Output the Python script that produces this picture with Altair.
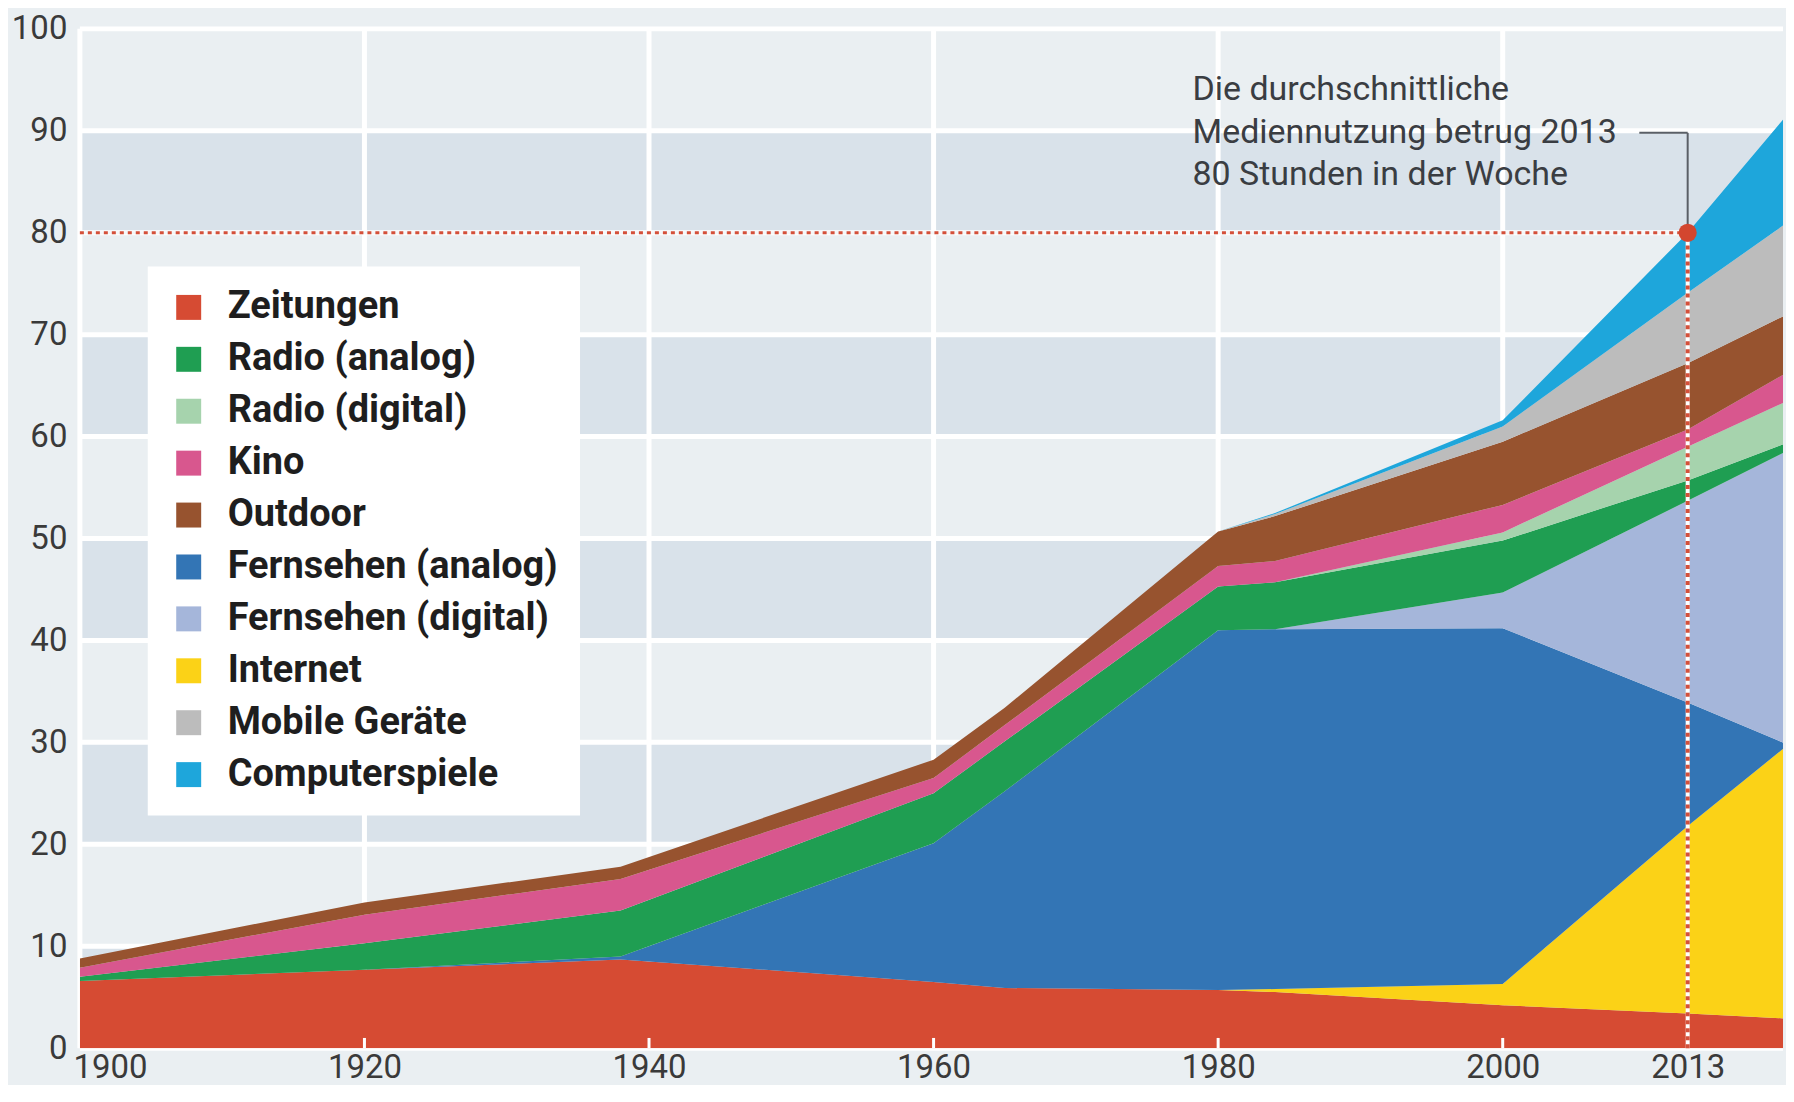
import altair as alt
import pandas as pd

# ---------------- data (hours per week) ----------------
years = [1900, 1920, 1938, 1960, 1965, 1980, 1984, 2000, 2013, 2020]
zeitungen = [6.6, 7.7, 8.7, 6.5, 5.9, 5.7, 5.5, 4.2, 3.4, 2.9]
internet = [0, 0, 0, 0, 0, 0, 0.3, 2.1, 18.4, 26.8]
tv_analog = [0, 0, 0.3, 13.6, 19.3, 35.3, 35.3, 34.9, 12.1, 0.1]
tv_digital = [0, 0, 0, 0, 0, 0, 0, 3.5, 19.8, 28.8]
radio_analog = [0.4, 2.6, 4.5, 4.9, 4.9, 4.3, 4.6, 5.1, 2.0, 0.8]
radio_digital = [0, 0, 0, 0, 0, 0, 0, 0.8, 3.3, 4.1]
kino = [0.9, 2.8, 3.1, 1.5, 1.6, 2.0, 2.1, 2.7, 1.7, 2.8]
outdoor = [0.9, 1.2, 1.2, 1.8, 1.7, 3.4, 4.4, 6.2, 6.5, 5.7]
mobile = [0, 0, 0, 0, 0, 0, 0.2, 1.5, 6.9, 9.0]
games = [0, 0, 0, 0, 0, 0, 0.1, 0.6, 5.9, 10.6]

# stacking order, bottom to top
stack_names = ["Zeitungen", "Internet", "Fernsehen (analog)", "Fernsehen (digital)",
               "Radio (analog)", "Radio (digital)", "Kino", "Outdoor",
               "Mobile Geräte", "Computerspiele"]
stack_values = [zeitungen, internet, tv_analog, tv_digital, radio_analog,
                radio_digital, kino, outdoor, mobile, games]

# legend order and colours
legend_names = ["Zeitungen", "Radio (analog)", "Radio (digital)", "Kino", "Outdoor",
                "Fernsehen (analog)", "Fernsehen (digital)", "Internet",
                "Mobile Geräte", "Computerspiele"]
legend_colors = ["#d64b33", "#1f9e52", "#a6d3ad", "#d8578e", "#97532f",
                 "#3375b5", "#a5b6da", "#fbd217", "#bcbcbc", "#1ea6db"]

y_ticks = [0, 10, 20, 30, 40, 50, 60, 70, 80, 90, 100]
x_labels = [1900, 1920, 1940, 1960, 1980, 2000, 2013]
x_grid = [1900, 1920, 1940, 1960, 1980, 2000]
bottom_ticks = [1920, 1940, 1960, 1980, 2000]
band_starts = [0, 20, 40, 60, 80]

ref_year = 2013
ref_value = 80
note_lines = ["Die durchschnittliche", "Mediennutzung betrug 2013", "80 Stunden in der Woche"]
note_y = [94.0, 89.8, 85.7]
note_x = 1978.2
connector_y = 89.8
connector_x0 = 2009.6

X_MIN, X_MAX = 1900, 2019.7
W, H = 1706, 1021
FONT = "Roboto"

# ---------------- tables ----------------
rows = []
for k, (name, vals) in enumerate(zip(stack_names, stack_values)):
    for yr, v in zip(years, vals):
        rows.append({"year": yr, "hours": v, "series": name, "ord": k})
df = pd.DataFrame(rows)

xs = alt.Scale(domain=[X_MIN, X_MAX], nice=False, zero=False)
ys = alt.Scale(domain=[0, 100], nice=False)
x_axis = alt.Axis(values=x_labels, format="d", labelFlush=True,
                  labelFlushOffset=7, labelPadding=3)
y_axis = alt.Axis(values=y_ticks, labelPadding=13)


def X(field):
    return alt.X(field, scale=xs, axis=x_axis, title=None)


def Y(field, **kw):
    return alt.Y(field, scale=ys, axis=y_axis, title=None, **kw)


bands = pd.DataFrame({"lo": band_starts, "hi": [b + 10 for b in band_starts],
                      "x0": X_MIN, "x1": X_MAX})
band_layer = alt.Chart(bands).mark_rect(color="#d9e2ea").encode(
    x=X("x0:Q"), x2="x1:Q", y=Y("lo:Q"), y2="hi:Q")

gh = pd.DataFrame({"v": y_ticks, "x0": X_MIN, "x1": X_MAX})
grid_h = alt.Chart(gh).mark_rule(color="#ffffff", strokeWidth=5).encode(
    x=X("x0:Q"), x2="x1:Q", y=Y("v:Q"))

gv = pd.DataFrame({"yr": x_grid, "y0": 0, "y1": 100})
grid_v = alt.Chart(gv).mark_rule(color="#ffffff", strokeWidth=5).encode(
    x=X("yr:Q"), y=Y("y0:Q"), y2="y1:Q")

areas = alt.Chart(df).mark_area(interpolate="linear", clip=True).encode(
    x=X("year:Q"),
    y=Y("hours:Q", stack="zero"),
    color=alt.Color("series:N",
                    scale=alt.Scale(domain=legend_names, range=legend_colors),
                    legend=alt.Legend(orient="none", legendX=68, legendY=238,
                                      direction="vertical",
                                      fillColor="#ffffff", padding=22,
                                      symbolType="square", symbolSize=625,
                                      symbolStrokeWidth=0, symbolOpacity=1,
                                      labelFont=FONT, labelFontSize=38,
                                      labelFontWeight="bold",
                                      labelColor="#1e1e1e", labelLimit=600,
                                      rowPadding=14, labelOffset=20,
                                      title=None)),
    order=alt.Order("ord:Q", sort="ascending"))

bt = pd.DataFrame({"yr": bottom_ticks, "y0": 0, "y1": 1.0})
ticks_layer = alt.Chart(bt).mark_rule(color="#ffffff", strokeWidth=3).encode(
    x=X("yr:Q"), y=Y("y0:Q"), y2="y1:Q")

h_ref = pd.DataFrame({"x0": [X_MIN], "x1": [ref_year], "v": [ref_value]})
v_ref = pd.DataFrame({"yr": [ref_year], "y0": [0], "y1": [ref_value]})

h_white = alt.Chart(h_ref).mark_rule(color="#f4f6f8", strokeWidth=3).encode(
    x=X("x0:Q"), x2="x1:Q", y=Y("v:Q"))
h_red = alt.Chart(h_ref).mark_rule(color="#d4503a", strokeWidth=3,
                                   strokeDash=[4, 4]).encode(
    x=X("x0:Q"), x2="x1:Q", y=Y("v:Q"))
v_white = alt.Chart(v_ref).mark_rule(color="#ffffff", strokeWidth=4).encode(
    x=X("yr:Q"), y=Y("y0:Q"), y2="y1:Q")
v_red = alt.Chart(v_ref).mark_rule(color="#d4503a", strokeWidth=4,
                                   strokeDash=[4, 4]).encode(
    x=X("yr:Q"), y=Y("y0:Q"), y2="y1:Q")

con_h = pd.DataFrame({"x0": [connector_x0], "x1": [ref_year], "v": [connector_y]})
con_v = pd.DataFrame({"yr": [ref_year], "y0": [ref_value], "y1": [connector_y]})
conn1 = alt.Chart(con_h).mark_rule(color="#5a5f66", strokeWidth=2).encode(
    x=X("x0:Q"), x2="x1:Q", y=Y("v:Q"))
conn2 = alt.Chart(con_v).mark_rule(color="#5a5f66", strokeWidth=2).encode(
    x=X("yr:Q"), y=Y("y0:Q"), y2="y1:Q")

dot_df = pd.DataFrame({"yr": [ref_year], "v": [ref_value]})
dot = alt.Chart(dot_df).mark_point(filled=True, color="#d3462f", size=330,
                                   opacity=1).encode(
    x=X("yr:Q"), y=Y("v:Q"))

note_df = pd.DataFrame({"line": note_lines, "ty": note_y, "tx": note_x})
note = alt.Chart(note_df).mark_text(align="left", baseline="middle", font=FONT,
                                    fontSize=34, color="#3a3d42").encode(
    x=X("tx:Q"), y=Y("ty:Q"), text="line:N")

chart = alt.layer(band_layer, grid_h, grid_v, areas, ticks_layer,
                  h_white, h_red, v_white, v_red, conn1, conn2, dot, note
                  ).properties(
    width=W, height=H,
    padding={"left": 3, "top": 4, "right": 0, "bottom": 0},
    background="#eaeff2"
).configure_view(strokeWidth=0).configure_axis(
    labelFont=FONT, labelFontSize=33, labelColor="#3a3a3a",
    domain=False, ticks=False, grid=False)

chart.save("out.html", embed_options={"renderer": "svg", "actions": False})
